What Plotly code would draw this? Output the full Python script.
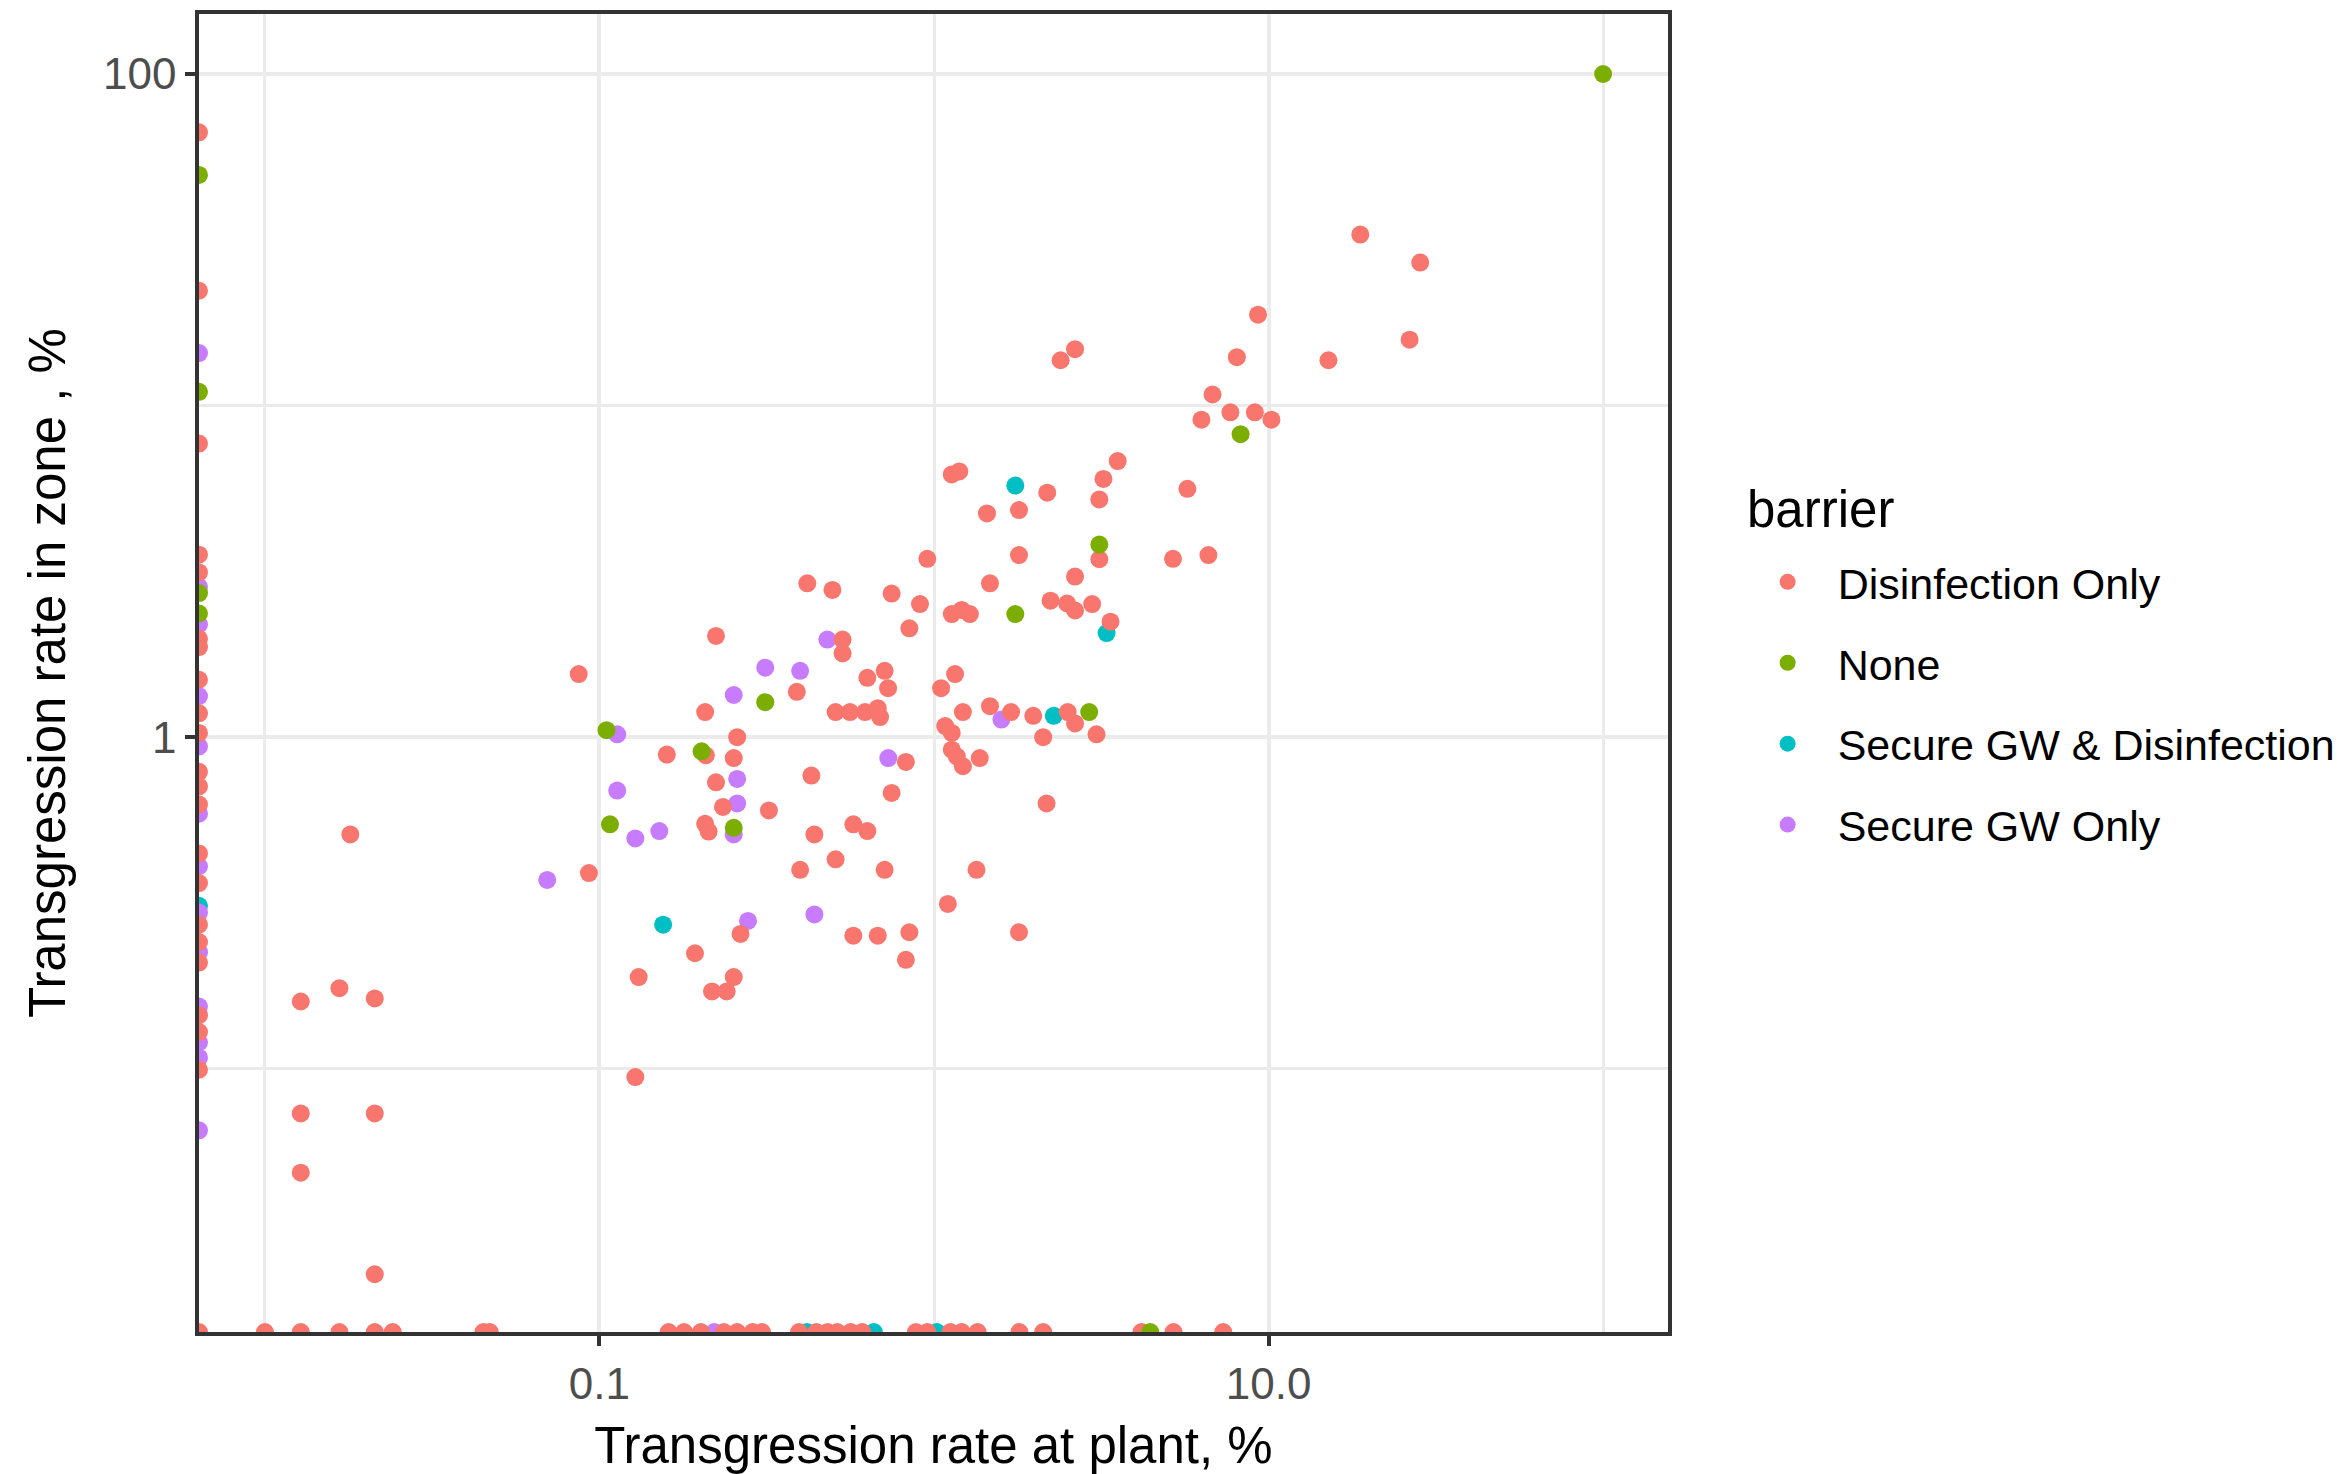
import plotly.graph_objects as go

# ---------------- data (values in %, 0 = zero transgression) ----------------
categories = ["Disinfection Only", "None", "Secure GW & Disinfection", "Secure GW Only"]
colors = ["#F8766D", "#7CAE00", "#00BFC4", "#C77CFF"]

# Disinfection Only: both rates positive
disinf_plant = [0.955, 0.418, 0.497, 0.747, 0.908, 0.844, 0.223, 0.533, 0.533, 0.0867,
                0.632, 0.712, 0.729, 1.05, 0.389, 0.207, 0.508, 0.561, 0.622, 0.679,
                0.69, 1.08, 0.258, 0.159, 0.208, 0.252, 0.824, 0.43, 0.223, 0.747,
                0.234, 0.321, 0.207, 0.212, 0.439, 0.574, 0.632, 0.508, 0.398, 0.712,
                0.093, 0.264, 0.574, 0.679, 0.844, 0.824, 0.193, 0.131, 0.252, 0.217,
                0.24, 0.128, 2.17, 1.34, 1.10, 1.795,
                3.54, 1.13, 1.19, 3.21, 2.18, 3.12, 5.72, 1.44, 1.795, 3.12,
                1.795, 5.18, 6.61, 2.64, 1.47, 1.13, 1.21, 1.28, 2.23, 2.5,
                2.64, 2.97, 3.37, 1.156, 1.47, 1.22, 1.70, 1.98, 2.51, 2.64,
                1.13, 2.12, 3.06, 1.13, 1.17, 1.22, 1.37,
                18.8, 28.4, 9.3, 26.4, 2.64, 2.39, 8.04, 15.1, 6.8, 6.3, 7.69, 9.1, 10.2,
                0.018, 0.0128, 0.0167, 0.0213, 0.0128, 0.0213, 0.0128, 0.0213]
disinf_zone = [3.45, 2.91, 2.78, 2.71, 2.52, 2.13, 2.02, 1.97, 1.79, 1.55,
               1.51, 1.585, 1.405, 1.405, 1.37, 1.19, 1.19, 1.19, 1.19, 1.223,
               1.15, 1.08, 1.0, 0.886, 0.882, 0.865, 0.842, 0.766, 0.731, 0.679,
               0.616, 0.601, 0.548, 0.519, 0.509, 0.546, 0.521, 0.428, 0.398, 0.398,
               0.389, 0.255, 0.252, 0.252, 0.258, 0.213, 0.223, 0.189, 0.189, 0.171,
               0.171, 0.0944, 0.631, 0.398, 0.314, 0.258,
               6.8, 6.2, 6.33, 6.01, 5.46, 5.21, 5.61, 4.73, 4.84, 3.44,
               3.54, 3.45, 3.54, 3.05, 2.91, 2.35, 2.42, 2.35, 2.58, 2.53,
               2.41, 2.52, 2.23, 1.55, 1.24, 1.19, 1.19, 1.16, 1.19, 1.10,
               1.03, 1.0, 1.02, 0.917, 0.875, 0.817, 0.865,
               32.8, 27.0, 18.8, 15.8, 14.8, 13.7, 14.0, 13.7, 10.8, 9.07, 9.54, 9.54, 9.07,
               0.509, 0.1595, 0.175, 0.163, 0.0733, 0.0733, 0.0486, 0.024]
# Disinfection Only: plant rate = 0 (zone rates)
disinf_zone_plant0 = [66.7, 22.2, 7.68, 3.55, 3.14, 1.98, 1.87, 1.49, 1.18, 1.03, 0.786,
                      0.71, 0.627, 0.446, 0.363, 0.272, 0.241, 0.209, 0.145, 0.129, 0.0993]
# Disinfection Only: zone rate = 0 (plant rates)
disinf_plant_zone0 = [0, 0.01, 0.0128, 0.0167, 0.0213, 0.0241, 0.045, 0.047, 0.161, 0.179,
                      0.201, 0.2355, 0.258, 0.287, 0.306, 0.395, 0.445, 0.481, 0.514, 0.564,
                      0.61, 0.883, 0.955, 1.12, 1.21, 1.35, 1.80, 2.12, 4.17, 5.2, 7.32]

none_plant = [100, 3.12, 1.75, 2.91, 0.313, 0.105, 0.202, 0.1075, 0.252, 8.25]
none_zone = [100, 3.81, 2.35, 1.19, 1.275, 1.05, 0.906, 0.546, 0.533, 8.2]
none_zone_plant0 = [49.6, 11.0, 2.72, 2.36]
none_plant_zone0 = [4.43]

sgwd_plant = [1.75, 3.28, 2.28, 0.155]
sgwd_zone = [5.74, 2.06, 1.16, 0.272]
sgwd_zone_plant0 = [0.31]
sgwd_plant_zone0 = [0.417, 0.661, 1.02]

sgw_plant = [0.48, 0.313, 0.398, 0.252, 0.113, 0.73, 0.258, 0.113, 0.258, 0.128,
             0.151, 0.252, 0.0698, 0.278, 0.439, 1.59]
sgw_zone = [1.97, 1.62, 1.585, 1.34, 1.02, 0.865, 0.748, 0.69, 0.631, 0.495,
            0.521, 0.509, 0.371, 0.279, 0.292, 1.13]
sgw_zone_plant0 = [14.4, 2.84, 2.19, 1.33, 0.938, 0.588, 0.408, 0.296, 0.2246, 0.154,
                   0.12, 0.108, 0.0652]
sgw_plant_zone0 = [0.2205]

x_tick_vals = [0.1, 10]
x_tick_text = ["0.1", "10.0"]
y_tick_vals = [1, 100]
y_tick_text = ["1", "100"]

# ---------------- figure ----------------
XR = [-2.197, 2.194]
YR = [-1.794, 2.181]
x_edge = 10 ** XR[0]
y_edge = 10 ** YR[0]

series = [
    (disinf_plant, disinf_zone, disinf_zone_plant0, disinf_plant_zone0),
    (none_plant, none_zone, none_zone_plant0, none_plant_zone0),
    (sgwd_plant, sgwd_zone, sgwd_zone_plant0, sgwd_plant_zone0),
    (sgw_plant, sgw_zone, sgw_zone_plant0, sgw_plant_zone0),
]

FONT = "Liberation Sans, Arial, sans-serif"
fig = go.Figure()
draw_order = [2, 3, 0, 1]
for i in draw_order:
    px, pz, z0, p0 = series[i]
    xs = list(px) + [0] * len(z0) + list(p0)
    ys = list(pz) + list(z0) + [0] * len(p0)
    # zero values squished onto the panel edge (as -Inf in a log scale)
    xs = [v if v > 0 else x_edge for v in xs]
    ys = [v if v > 0 else y_edge for v in ys]
    fig.add_trace(go.Scatter(
        x=xs, y=ys, mode="markers", name=categories[i],
        legendrank=i + 1, legendgroup=categories[i],
        marker=dict(color=colors[i], size=18, line=dict(width=0)),
        cliponaxis=True,
    ))

grid = "#EBEBEB"
fig.update_layout(
    width=2342, height=1466,
    margin=dict(l=191, r=682, t=2, b=142),
    paper_bgcolor="white", plot_bgcolor="white",
    font=dict(family=FONT, color="black"),
    showlegend=True,
    legend=dict(
        font=dict(size=43, color="black"),
        x=1.0474, xanchor="left", y=0.5953, yanchor="top",
        traceorder="grouped", tracegroupgap=22, itemwidth=90,
        bgcolor="rgba(0,0,0,0)",
    ),
    annotations=[dict(
        text="barrier", xref="paper", yref="paper", x=1.0521, y=0.6244,
        xanchor="left", yanchor="middle", showarrow=False,
        font=dict(size=51, color="black", family=FONT),
    )],
    xaxis=dict(
        type="log", range=XR,
        tickmode="array", tickvals=x_tick_vals, ticktext=x_tick_text,
        tickfont=dict(size=44, color="#4D4D4D", family=FONT),
        ticks="outside", ticklen=10, tickwidth=3.5, tickcolor="#333333",
        showgrid=True, gridcolor=grid, gridwidth=3.5,
        minor=dict(tickmode="array", tickvals=[0.01, 1, 100], showgrid=True,
                   gridcolor=grid, gridwidth=3, ticks=""),
        showline=True, linecolor="#333333", linewidth=3.5, mirror=True,
        zeroline=False,
        title=dict(text="Transgression rate at plant, %", font=dict(size=51, color="black"),
                   standoff=22),
    ),
    yaxis=dict(
        type="log", range=YR,
        tickmode="array", tickvals=y_tick_vals, ticktext=y_tick_text,
        tickfont=dict(size=44, color="#4D4D4D", family=FONT),
        ticks="outside", ticklen=10, tickwidth=3.5, tickcolor="#333333",
        showgrid=True, gridcolor=grid, gridwidth=3.5,
        minor=dict(tickmode="array", tickvals=[0.1, 10], showgrid=True,
                   gridcolor=grid, gridwidth=3, ticks=""),
        showline=True, linecolor="#333333", linewidth=3.5, mirror=True,
        zeroline=False,
        title=dict(text="Transgression rate in zone , %", font=dict(size=51, color="black"),
                   standoff=22),
    ),
)

fig.write_html("out.html")
